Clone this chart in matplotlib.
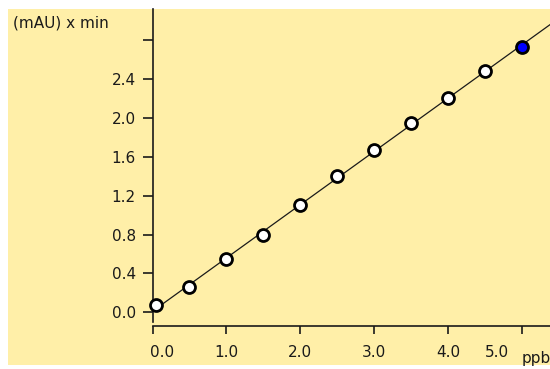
import numpy as np
import matplotlib
matplotlib.use("Agg")
import matplotlib.pyplot as plt
from matplotlib.patches import Rectangle
from matplotlib.transforms import ScaledTranslation

# ---- data ----
conc_ppb = [0.05, 0.5, 1.0, 1.5, 2.0, 2.5, 3.0, 3.5, 4.0, 4.5, 5.0]
area_mau_min = [0.075, 0.264, 0.549, 0.796, 1.10, 1.404, 1.672, 1.953, 2.204, 2.488, 2.735]
highlight_index = 10  # last standard drawn in blue

x_ticks = [0.0, 1.0, 2.0, 3.0, 4.0, 5.0]
x_tick_labels = ["0.0", "1.0", "2.0", "3.0", "4.0", "5.0"]
y_ticks = [0.0, 0.4, 0.8, 1.2, 1.6, 2.0, 2.4, 2.8]
y_tick_labels = ["0.0", "0.4", "0.8", "1.2", "1.6", "2.0", "2.4", ""]
y_axis_label = "(mAU) x min"
x_axis_label = "ppb"

BG = "#FFEFA8"
W, H = 550, 369
fig = plt.figure(figsize=(W / 100, H / 100), dpi=100, facecolor="white")

# yellow panel behind everything
bg = Rectangle((8 / W, 4 / H), 1 - 8 / W, 1 - 13 / H,
               transform=fig.transFigure, facecolor=BG,
               edgecolor="none", zorder=-10)
fig.patches.append(bg)

left_px, top_px, bottom_px = 152.5, 9, 325.5
ax = fig.add_axes([left_px / W, 1 - bottom_px / H, 1 - left_px / W,
                   (bottom_px - top_px) / H])
ax.set_zorder(5)
ax.set_facecolor("none")

px_per_x = 73.92
px_per_y = 97.1
y0_px = 312.3
ax.set_xlim(0, (W - left_px) / px_per_x)
ax.set_ylim((y0_px - bottom_px) / px_per_y, (y0_px - top_px) / px_per_y)

# calibration line (least squares through the standards)
slope, intercept = np.polyfit(conc_ppb, area_mau_min, 1)
xl = np.array(ax.get_xlim())
ax.plot(xl, intercept + slope * xl, color="#1a1a1a", lw=0.9, zorder=2)

faces = ["white"] * len(conc_ppb)
faces[highlight_index] = "#0000FF"
for xv, yv, fc in zip(conc_ppb, area_mau_min, faces):
    ax.plot([xv], [yv], marker="o", ms=8.6, mfc=fc, mec="black", mew=2.0,
            ls="none", zorder=4, clip_on=False)

for s in ["top", "right"]:
    ax.spines[s].set_visible(False)
for s in ["left", "bottom"]:
    ax.spines[s].set_linewidth(1.2)
    ax.spines[s].set_color("#1a1a1a")
ax.spines["left"].set_bounds((y0_px - 322) / px_per_y, ax.get_ylim()[1])

font = dict(family="DejaVu Sans", size=11, color="#1a1a1a")
ax.set_xticks(x_ticks)
ax.set_xticklabels(x_tick_labels, **font)
ax.set_yticks(y_ticks)
ax.set_yticklabels(y_tick_labels, **font)
ax.tick_params(axis="x", direction="out", length=6, width=1.2, pad=8,
               color="#1a1a1a")
ax.tick_params(axis="y", direction="out", length=7, width=1.2, pad=5,
               color="#1a1a1a")

labels = ax.get_xticklabels()
labels[0].set_transform(labels[0].get_transform() +
                        ScaledTranslation(0.10, 0, fig.dpi_scale_trans))
labels[-1].set_transform(labels[-1].get_transform() +
                         ScaledTranslation(-0.255, 0, fig.dpi_scale_trans))

fig.text(13 / W, 1 - 23.5 / H, y_axis_label, ha="left", va="center", **font)
fig.text(522 / W, 1 - 351 / H, x_axis_label, ha="left", va="top", **font)

fig.savefig("out.png", dpi=100, facecolor="white")
